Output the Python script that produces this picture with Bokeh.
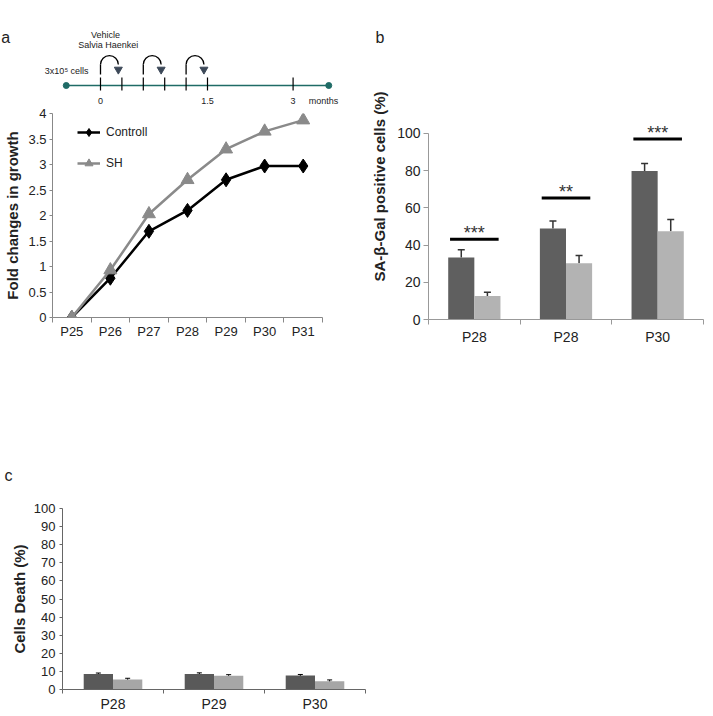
import numpy as np
from bokeh.plotting import figure
from bokeh.layouts import column, row
from bokeh.models import (Range1d, FixedTicker, Legend, LegendItem,
                          Whisker, ColumnDataSource, TeeHead)
from bokeh.core.properties import value
from bokeh.embed import file_html
from bokeh.resources import INLINE

FONT = "Liberation Sans"
TEAL = "#1f6b66"

# ---------------- data ----------------
# panel a: treatment timeline (schematic, months)
timeline_ticks = [0, 0.3, 0.6, 0.9, 1.2, 1.5, 2.7]
timeline_label_pos = [0, 1.5, 2.7]
timeline_labels = ["0", "1.5", "3"]
treatment_starts = [0, 0.6, 1.2]
treatment_length = 0.25
timeline_span = [-0.48, 3.2]

# panel a: growth curve
passages = ["P25", "P26", "P27", "P28", "P29", "P30", "P31"]
controll = [0.0, 0.77, 1.69, 2.10, 2.70, 2.97, 2.97]
sh = [0.0, 0.93, 2.03, 2.70, 3.30, 3.65, 3.87]
growth_ticks = [0, 0.5, 1, 1.5, 2, 2.5, 3, 3.5, 4]

# panel b: SA-beta-Gal
b_categories = ["P28", "P28", "P30"]
b_vehicle = [33.3, 48.9, 79.8]
b_vehicle_err = [4.2, 4.1, 4.1]
b_sh = [12.6, 30.3, 47.5]
b_sh_err = [2.1, 4.1, 6.3]
b_sig_y = [43.2, 65.3, 97.0]
b_sig_text = ["***", "**", "***"]
b_ticks = [0, 20, 40, 60, 80, 100]

# panel c: cell death
c_categories = ["P28", "P29", "P30"]
c_vehicle = [8.5, 8.6, 7.7]
c_vehicle_err = [0.6, 0.6, 0.6]
c_sh = [5.5, 7.6, 4.6]
c_sh_err = [0.7, 0.6, 0.7]
c_ticks = list(range(0, 101, 10))


def style_common(p):
    p.grid.visible = False
    p.outline_line_color = None
    p.background_fill_color = "white"
    p.border_fill_color = "white"


def panel_title(p, letter, offset, standoff):
    p.title.text = letter
    p.title.align = "left"
    p.title.offset = offset
    p.title.standoff = standoff
    p.title.text_font = FONT
    p.title.text_font_size = "16px"
    p.title.text_font_style = "normal"
    p.title.text_color = "#222"


# ---------------- panel a: timeline ----------------
PXM = 71.33  # px per month in the schematic
tl = figure(width=368, height=106, x_range=Range1d(-100 / PXM, 268 / PXM),
            y_range=Range1d(-21, 85), output_backend="svg", toolbar_location=None,
            x_axis_location=None, y_axis_location=None, min_border=0,
            frame_align=False)
style_common(tl)
TXT = dict(text_font=value(FONT), text_color="#222")
tl.segment(x0=[timeline_span[0]], y0=[0], x1=[timeline_span[1]], y1=[0],
           line_color=TEAL, line_width=1.5)
tl.scatter(timeline_span, [0, 0], size=6, color=TEAL)
tl.segment(x0=timeline_ticks, y0=-5, x1=timeline_ticks, y1=8,
           line_color="black", line_width=1.2)
centers = [t + treatment_length / 2 for t in treatment_starts]
tl.arc(x=centers, y=21, radius=treatment_length / 2, start_angle=0,
       end_angle=np.pi, direction="anticlock", line_color="black", line_width=1.3)
tl.segment(x0=treatment_starts, y0=21, x1=treatment_starts, y1=11,
           line_color="black", line_width=1.3)
tl.scatter([t + treatment_length for t in treatment_starts], [16] * 3,
           marker="inverted_triangle", size=8, color="#3c4858")
tl.text(x=timeline_label_pos, y=-15, text=timeline_labels, text_align="center",
        text_baseline="middle", text_font_size="9px", **TXT)
tl.text(x=[2.92], y=[-15], text=["months"], text_align="left",
        text_baseline="middle", text_font_size="9px", **TXT)
tl.text(x=[0.07, 0.11], y=[51, 41], text=["Vehicle", "Salvia Haenkei"],
        text_align="center", text_baseline="middle", text_font_size="9px", **TXT)
tl.text(x=[-0.78], y=[15], text=["3x10\u2075 cells"], text_align="left",
        text_baseline="middle", text_font_size="9px", **TXT)
tl.text(x=[-1.39], y=[48], text=["a"], text_align="left", text_baseline="middle",
        text_font_size="16px", **TXT)

# ---------------- panel a: growth ----------------
xs = [i + 0.5 for i in range(len(passages))]
la = figure(width=368, height=242, x_range=Range1d(0, len(passages)),
            y_range=Range1d(0, 4), output_backend="svg", toolbar_location=None,
            min_border_left=52, min_border_right=46, min_border_top=7,
            min_border_bottom=31, frame_align=False)
style_common(la)
l1 = la.line(xs, controll, line_color="black", line_width=2.5)
s1 = la.scatter(xs, controll, marker="diamond", size=14, color="black")
l2 = la.line(xs, sh, line_color="#8a8a8a", line_width=2.5)
s2 = la.scatter(xs, sh, marker="triangle", size=13, color="#8a8a8a")
xa = la.xaxis[0]
xa.ticker = FixedTicker(ticks=xs, minor_ticks=list(range(len(passages) + 1)))
xa.major_label_overrides = {x: n for x, n in zip(xs, passages)}
ya = la.yaxis[0]
ya.ticker = FixedTicker(ticks=growth_ticks)
ya.major_label_overrides = {t: f"{t:g}" for t in growth_ticks}
ya.axis_label = "Fold changes in growth"
for ax in (xa, ya):
    ax.axis_line_color = "#888"
    ax.major_label_text_font = FONT
    ax.major_label_text_font_size = "13px"
    ax.major_label_text_color = "#222"
xa.major_tick_line_color = None
xa.major_tick_out = 5
xa.major_tick_in = 0
xa.minor_tick_line_color = "#888"
xa.minor_tick_out = 5
xa.minor_tick_in = 0
xa.major_label_standoff = 1
ya.major_tick_line_color = "#888"
ya.major_tick_out = 3
ya.major_tick_in = 0
ya.minor_tick_line_color = None
ya.major_label_standoff = 3
ya.axis_label_standoff = 4
ya.axis_label_text_font = FONT
ya.axis_label_text_font_size = "15px"
ya.axis_label_text_font_style = "bold"
ya.axis_label_text_color = "#222"
legend = Legend(items=[LegendItem(label="Controll", renderers=[l1, s1]),
                       LegendItem(label="SH", renderers=[l2, s2])],
                location=(25, 144), padding=0, margin=0, spacing=11,
                glyph_width=23, glyph_height=20, label_height=20,
                label_standoff=6, border_line_color=None,
                background_fill_alpha=0, label_text_font=FONT,
                label_text_font_size="12px", label_text_color="#222")
la.add_layout(legend)

# ---------------- panel b ----------------
BW = 0.285
bx = [i + 0.5 for i in range(len(b_categories))]
pb = figure(width=343, height=348, x_range=Range1d(0, len(b_categories)),
            y_range=Range1d(0, 143), output_backend="svg", toolbar_location=None,
            min_border_left=57, min_border_right=8, min_border_top=53,
            min_border_bottom=29, frame_align=False)
style_common(pb)
panel_title(pb, "b", -53, 16)
bdx = [x - BW / 2 for x in bx]
blx = [x + BW / 2 for x in bx]
pb.vbar(x=bdx, width=BW, top=b_vehicle, fill_color="#5f5f5f", line_color=None)
pb.vbar(x=blx, width=BW, top=b_sh, fill_color="#b3b3b3", line_color=None)
for xx, vals, errs in ((bdx, b_vehicle, b_vehicle_err), (blx, b_sh, b_sh_err)):
    src = ColumnDataSource(dict(x=xx, lower=vals,
                                upper=[v + e for v, e in zip(vals, errs)]))
    pb.add_layout(Whisker(base="x", lower="lower", upper="upper", source=src,
                          line_color="#333", line_width=1.5, lower_head=None,
                          upper_head=TeeHead(size=7, line_color="#333", line_width=1.5)))
pb.segment(x0=[x - 0.265 for x in bx], x1=[x + 0.265 for x in bx], y0=b_sig_y,
           y1=b_sig_y, line_color="black", line_width=3)
pb.text(x=bx, y=b_sig_y, text=b_sig_text, text_align="center",
        text_baseline="alphabetic", y_offset=-6, text_font_size="18px",
        text_font=value(FONT), text_color="#333")
xb = pb.xaxis[0]
xb.ticker = FixedTicker(ticks=bx, minor_ticks=list(range(len(b_categories) + 1)))
xb.major_label_overrides = {x: n for x, n in zip(bx, b_categories)}
yb = pb.yaxis[0]
yb.ticker = FixedTicker(ticks=b_ticks)
yb.bounds = (0, 100)
yb.axis_label = "SA-\u03b2-Gal positive cells (%)"
for ax in (xb, yb):
    ax.axis_line_color = "#999"
    ax.major_label_text_font = FONT
    ax.major_label_text_font_size = "14px"
    ax.major_label_text_color = "#222"
xb.major_tick_line_color = None
xb.major_tick_out = 5
xb.major_tick_in = 0
xb.minor_tick_line_color = "#999"
xb.minor_tick_out = 5
xb.minor_tick_in = 0
xb.major_label_standoff = 4
yb.major_tick_line_color = "#999"
yb.major_tick_out = 5
yb.major_tick_in = 0
yb.minor_tick_line_color = None
yb.major_label_standoff = 3
yb.axis_label_standoff = 6
yb.axis_label_text_font = FONT
yb.axis_label_text_font_size = "15px"
yb.axis_label_text_font_style = "bold"
yb.axis_label_text_color = "#222"

# ---------------- panel c ----------------
CW = 0.29
cx = [i + 0.5 for i in range(len(c_categories))]
pc = figure(width=368, height=366, x_range=Range1d(0, len(c_categories)),
            y_range=Range1d(0, 100), output_backend="svg", toolbar_location=None,
            min_border_left=62, min_border_right=3, min_border_top=160,
            min_border_bottom=22, frame_align=False)
style_common(pc)
panel_title(pc, "c", -58, 49)
cdx = [x - CW / 2 for x in cx]
clx = [x + CW / 2 for x in cx]
pc.vbar(x=cdx, width=CW, top=c_vehicle, fill_color="#595959", line_color=None)
pc.vbar(x=clx, width=CW, top=c_sh, fill_color="#a6a6a6", line_color=None)
for xx, vals, errs in ((cdx, c_vehicle, c_vehicle_err), (clx, c_sh, c_sh_err)):
    src = ColumnDataSource(dict(x=xx, lower=[v - e for v, e in zip(vals, errs)],
                                upper=[v + e for v, e in zip(vals, errs)]))
    pc.add_layout(Whisker(base="x", lower="lower", upper="upper", source=src,
                          line_color="black", line_width=1,
                          lower_head=TeeHead(size=5, line_color="black", line_width=1),
                          upper_head=TeeHead(size=5, line_color="black", line_width=1)))
xc = pc.xaxis[0]
xc.ticker = FixedTicker(ticks=cx, minor_ticks=list(range(len(c_categories) + 1)))
xc.major_label_overrides = {x: n for x, n in zip(cx, c_categories)}
yc = pc.yaxis[0]
yc.ticker = FixedTicker(ticks=c_ticks)
yc.axis_label = "Cells Death (%)"
for ax in (xc, yc):
    ax.axis_line_color = "#666"
    ax.major_label_text_font = FONT
    ax.major_label_text_color = "#222"
xc.major_label_text_font_size = "14px"
yc.major_label_text_font_size = "13px"
xc.major_tick_line_color = None
xc.major_tick_out = 4
xc.major_tick_in = 0
xc.minor_tick_line_color = "#666"
xc.minor_tick_out = 4
xc.minor_tick_in = 0
xc.major_label_standoff = 2
yc.major_tick_line_color = "#666"
yc.major_tick_out = 3
yc.major_tick_in = 0
yc.minor_tick_line_color = None
yc.major_label_standoff = 4
yc.axis_label_standoff = 3
yc.axis_label_text_font = FONT
yc.axis_label_text_font_size = "15px"
yc.axis_label_text_font_style = "bold"
yc.axis_label_text_color = "#222"

layout = column(row(column(tl, la), pb), pc)
open("out.html", "w").write(file_html(layout, INLINE))
